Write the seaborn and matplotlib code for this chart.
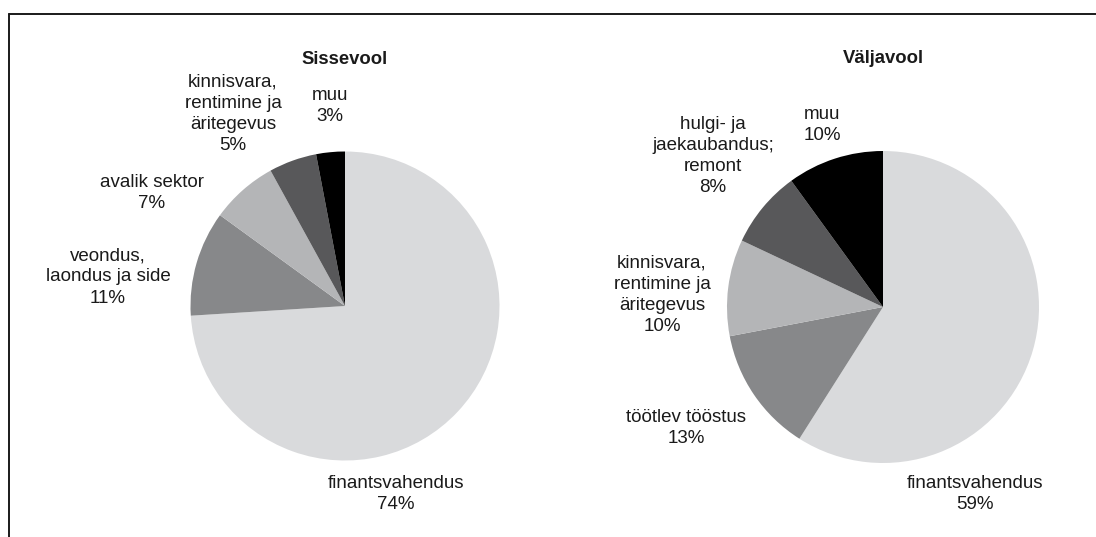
import matplotlib
matplotlib.use('Agg')
import matplotlib.pyplot as plt
import seaborn as sns
from matplotlib.lines import Line2D

# Data
in_labels = ['finantsvahendus', 'veondus,\nlaondus ja side', 'avalik sektor',
             'kinnisvara,\nrentimine ja\näritegevus', 'muu']
in_values = [74, 11, 7, 5, 3]

out_labels = ['finantsvahendus', 'töötlev tööstus', 'kinnisvara,\nrentimine ja\näritegevus',
              'hulgi- ja\njaekaubandus;\nremont', 'muu']
out_values = [59, 13, 10, 8, 10]

titles = ['Sissevool', 'Väljavool']

# grey shades, same order of slices in both pies
shades = ['#d9dadc', '#87888a', '#b4b5b7', '#58585a', '#000000']

# label placement in pie-radius units (layout only)
in_label_pos = [(0.33, -1.217), (-1.534, 0.188), (-1.249, 0.731), (-0.725, 1.243), (-0.097, 1.294)]
out_label_pos = [(0.59, -1.199), (-1.263, -0.776), (-1.417, 0.077), (-1.09, 0.968), (-0.391, 1.167)]

sns.set_theme(style='white')
plt.rcParams['font.family'] = ['Liberation Sans', 'DejaVu Sans']

W, H = 1096, 537
fig = plt.figure(figsize=(W / 100, H / 100), dpi=100)

LIM = 2.0
pies = [
    (345, 306, 154.5, in_values, in_labels, in_label_pos, titles[0]),
    (883, 307, 156, out_values, out_labels, out_label_pos, titles[1]),
]

for cx, cy, r, vals, labs, pos, title in pies:
    size = 2 * LIM * r
    ax = fig.add_axes([(cx - size / 2) / W, (H - cy - size / 2) / H, size / W, size / H])
    ax.patch.set_alpha(0)
    ax.pie(vals, colors=shades, startangle=90, counterclock=False,
           wedgeprops=dict(linewidth=0))
    ax.set_xlim(-LIM, LIM)
    ax.set_ylim(-LIM, LIM)
    ax.set_aspect('equal')
    ax.axis('off')
    for lab, v, (x, y) in zip(labs, vals, pos):
        ax.text(x, y, f'{lab}\n{v}%', ha='center', va='center', fontsize=13.5,
                color='#1a1a1a', linespacing=1.32)
    ax.text(0, 1.595, title, ha='center', va='center', fontsize=13.3,
            fontweight='bold', color='#1a1a1a')

# frame lines (top and left)
fig.add_artist(Line2D([9 / W, 1], [1 - 14 / H, 1 - 14 / H], color='#1a1a1a', lw=1.4))
fig.add_artist(Line2D([9 / W, 9 / W], [0, 1 - 14 / H], color='#1a1a1a', lw=1.4))

fig.savefig('out.png', dpi=100)
